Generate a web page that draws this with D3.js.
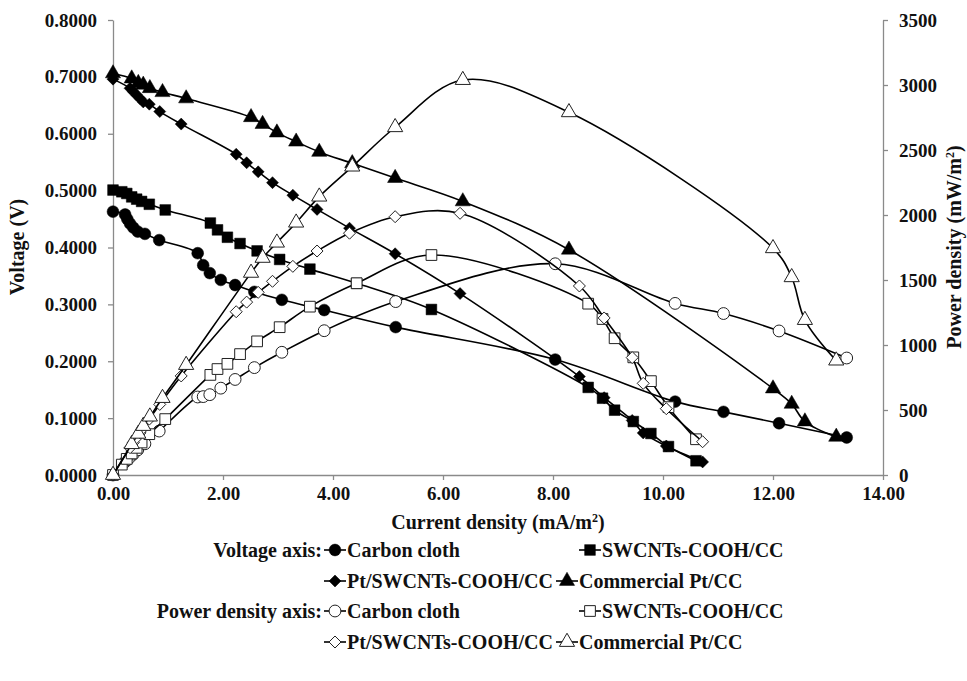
<!DOCTYPE html>
<html>
<head>
<meta charset="utf-8">
<script src="https://cdn.jsdelivr.net/npm/d3@7"></script>
<style>
  body { margin: 0; background: #fff; }
</style>
</head>
<body>
<svg id="chart" width="967" height="681"></svg>
<script>
// Carbon cloth
var ccX = [0, 0.22, 0.26, 0.31, 0.37, 0.45, 0.58, 0.84, 1.54, 1.64, 1.76, 1.96, 2.22, 2.57, 3.07, 3.84, 5.14, 8.04, 10.22, 11.10, 12.11, 13.34];
var ccV = [0.463, 0.458, 0.450, 0.442, 0.435, 0.428, 0.424, 0.413, 0.390, 0.369, 0.355, 0.343, 0.334, 0.322, 0.308, 0.290, 0.260, 0.203, 0.129, 0.111, 0.091, 0.066];
var ccP = [0, 101, 117, 137, 161, 193, 240, 338, 600, 603, 618, 668, 735, 826, 944, 1110, 1334, 1625, 1320, 1242, 1108, 900];

// SWCNTs-COOH/CC
var swX = [0, 0.16, 0.25, 0.34, 0.43, 0.52, 0.66, 0.95, 1.77, 1.90, 2.08, 2.31, 2.62, 3.03, 3.58, 4.43, 5.79, 8.64, 8.90, 9.12, 9.46, 9.78, 10.10, 10.60];
var swV = [0.501, 0.498, 0.495, 0.489, 0.485, 0.481, 0.476, 0.466, 0.443, 0.431, 0.418, 0.407, 0.394, 0.379, 0.362, 0.337, 0.291, 0.154, 0.135, 0.114, 0.094, 0.073, 0.050, 0.025];
var swP = [0, 80, 124, 166, 209, 250, 314, 430, 770, 815, 855, 930, 1028, 1137, 1295, 1475, 1692, 1318, 1200, 1052, 905, 722, 522, 275];

// Pt/SWCNTs-COOH/CC
var ptX = [0, 0.31, 0.37, 0.43, 0.49, 0.55, 0.66, 0.85, 1.24, 2.24, 2.43, 2.64, 2.90, 3.27, 3.71, 4.30, 5.13, 6.31, 8.48, 8.93, 9.44, 9.64, 10.06, 10.72];
var ptV = [0.696, 0.680, 0.674, 0.668, 0.662, 0.656, 0.652, 0.639, 0.617, 0.564, 0.549, 0.533, 0.514, 0.492, 0.467, 0.434, 0.389, 0.319, 0.173, 0.136, 0.096, 0.074, 0.051, 0.023];
var ptP = [0, 210, 250, 287, 324, 361, 430, 543, 762, 1256, 1330, 1405, 1490, 1605, 1723, 1860, 1987, 2013, 1454, 1208, 903, 705, 510, 256];

// Commercial Pt/CC
var cmX = [0, 0.34, 0.46, 0.55, 0.67, 0.90, 1.33, 2.51, 2.72, 2.98, 3.33, 3.75, 4.35, 5.13, 6.36, 8.29, 12.00, 12.34, 12.58, 13.15];
var cmV = [0.706, 0.697, 0.689, 0.686, 0.680, 0.673, 0.662, 0.629, 0.617, 0.602, 0.586, 0.568, 0.548, 0.522, 0.481, 0.396, 0.152, 0.125, 0.094, 0.067];
var cmP = [0, 237, 317, 377, 449, 592, 846, 1555, 1670, 1787, 1941, 2141, 2372, 2675, 3038, 2790, 1744, 1521, 1192, 880];

var seriesNames = ['Carbon cloth', 'SWCNTs-COOH/CC', 'Pt/SWCNTs-COOH/CC', 'Commercial Pt/CC'];
var legendHeaders = ['Voltage axis:', 'Power density axis:'];
var voltTicks = [0, 0.1, 0.2, 0.3, 0.4, 0.5, 0.6, 0.7, 0.8];
var powerTicks = [0, 500, 1000, 1500, 2000, 2500, 3000, 3500];
var currentTicks = [0, 2, 4, 6, 8, 10, 12, 14];

var FONT = '"Liberation Serif", "Times New Roman", serif';

var svg = d3.select('#chart');
var x = d3.scaleLinear().domain([0, 14]).range([113, 883]);
var yV = d3.scaleLinear().domain([0, 0.8]).range([475, 20]);
var yP = d3.scaleLinear().domain([0, 3500]).range([475, 20]);

var axisColor = '#8a8a8a';

function styleAxis(g) {
    g.attr('font-family', null).attr('font-size', null);
    g.selectAll('path.domain').attr('stroke', axisColor).attr('stroke-width', 1.3);
    g.selectAll('.tick line').attr('stroke', axisColor).attr('stroke-width', 1.3);
    g.selectAll('.tick text')
        .style('font-family', FONT)
        .style('font-weight', 'bold')
        .style('font-size', '19px')
        .attr('fill', '#111');
}

svg.append('g')
    .attr('transform', 'translate(0,475)')
    .call(d3.axisBottom(x).tickValues(currentTicks).tickFormat(d3.format('.2f')).tickSize(5).tickSizeOuter(0).tickPadding(7))
    .call(styleAxis);

svg.append('g')
    .attr('transform', 'translate(113,0)')
    .call(d3.axisLeft(yV).tickValues(voltTicks).tickFormat(d3.format('.4f')).tickSize(5).tickSizeOuter(0).tickPadding(11))
    .call(styleAxis);

svg.append('g')
    .attr('transform', 'translate(883,0)')
    .call(d3.axisRight(yP).tickValues(powerTicks).tickFormat(d3.format('d')).tickSize(5).tickSizeOuter(0).tickPadding(11))
    .call(styleAxis);

function textStyle(sel, size) {
    sel.style('font-family', FONT).style('font-weight', 'bold').style('font-size', size + 'px').attr('fill', '#111');
}

// axis titles
var xt = svg.append('text').attr('x', 498).attr('y', 529).attr('text-anchor', 'middle').call(textStyle, 20);
xt.append('tspan').text('Current density (mA/m');
xt.append('tspan').attr('dy', -7).style('font-size', '12px').text('2');
xt.append('tspan').attr('dy', 7).text(')');

svg.append('text')
    .attr('transform', 'translate(24,247) rotate(-90)')
    .attr('text-anchor', 'middle')
    .call(textStyle, 20)
    .text('Voltage (V)');

var rt = svg.append('text')
    .attr('transform', 'translate(961,247) rotate(-90)')
    .attr('text-anchor', 'middle')
    .call(textStyle, 20);
rt.append('tspan').text('Power density (mW/m');
rt.append('tspan').attr('dy', -7).style('font-size', '12px').text('2');
rt.append('tspan').attr('dy', 7).text(')');

// marker shapes
function diamondPath(r) { return 'M0,' + (-r) + 'L' + r + ',0L0,' + r + 'L' + (-r) + ',0Z'; }
var shapes = [
    d3.symbol(d3.symbolCircle, 110)(),
    d3.symbol(d3.symbolSquare, 115)(),
    diamondPath(6),
    d3.symbol(d3.symbolTriangle, 100)()
];

var series = [
    { xs: ccX, ys: ccV, y: yV, shape: 0, filled: true },
    { xs: swX, ys: swV, y: yV, shape: 1, filled: true },
    { xs: ptX, ys: ptV, y: yV, shape: 2, filled: true },
    { xs: cmX, ys: cmV, y: yV, shape: 3, filled: true },
    { xs: ccX, ys: ccP, y: yP, shape: 0, filled: false },
    { xs: swX, ys: swP, y: yP, shape: 1, filled: false },
    { xs: ptX, ys: ptP, y: yP, shape: 2, filled: false },
    { xs: cmX, ys: cmP, y: yP, shape: 3, filled: false }
];

function styleMarker(sel, filled) {
    sel.attr('fill', filled ? '#000' : '#fff')
        .attr('stroke', filled ? '#000' : '#222')
        .attr('stroke-width', filled ? 0.5 : 1);
}

series.forEach(function (s) {
    var pts = s.xs.map(function (d, i) { return [d, s.ys[i]]; });
    var line = d3.line()
        .x(function (d) { return x(d[0]); })
        .y(function (d) { return s.y(d[1]); })
        .curve(d3.curveCatmullRom.alpha(0.5));
    var g = svg.append('g');
    g.append('path')
        .attr('d', line(pts))
        .attr('fill', 'none')
        .attr('stroke', '#000')
        .attr('stroke-width', 1.6);
    g.selectAll('path.mk')
        .data(pts)
        .enter()
        .append('path')
        .attr('class', 'mk')
        .attr('d', shapes[s.shape])
        .attr('transform', function (d) { return 'translate(' + x(d[0]) + ',' + s.y(d[1]) + ')'; })
        .call(styleMarker, s.filled);
});

// legend
var rowY = [550, 581, 611, 642];
var colX = [[335, 590], [335, 567]];
var leg = svg.append('g');
[0, 1].forEach(function (block) {
    leg.append('text')
        .attr('x', 322)
        .attr('y', rowY[block * 2] + 7)
        .attr('text-anchor', 'end')
        .call(textStyle, 20)
        .text(legendHeaders[block]);
    seriesNames.forEach(function (name, i) {
        var row = Math.floor(i / 2), col = i % 2;
        var cx = colX[row][col], cy = rowY[block * 2 + row];
        leg.append('line')
            .attr('x1', cx - 11).attr('x2', cx + 11)
            .attr('y1', cy).attr('y2', cy)
            .attr('stroke', '#000').attr('stroke-width', 1.6);
        leg.append('path')
            .attr('d', shapes[i])
            .attr('transform', 'translate(' + cx + ',' + cy + ')')
            .call(styleMarker, block === 0);
        leg.append('text')
            .attr('x', cx + 12)
            .attr('y', cy + 7)
            .call(textStyle, 20)
            .text(name);
    });
});
</script>
</body>
</html>
